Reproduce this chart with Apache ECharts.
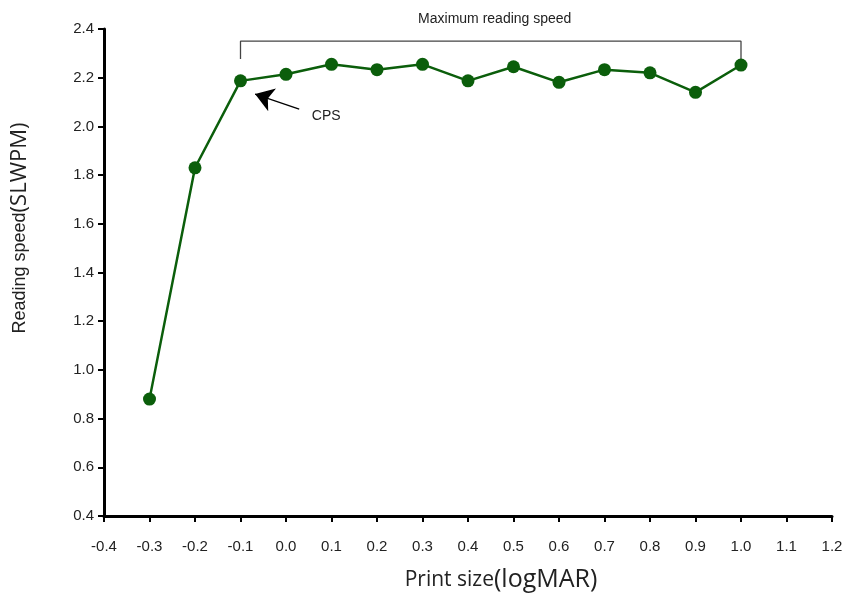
<!DOCTYPE html>
<html><head><meta charset="utf-8">
<script src="https://cdn.jsdelivr.net/npm/echarts@6/dist/echarts.min.js"></script>
<style>html,body{margin:0;padding:0;background:#fff}#c{width:851px;height:596px}</style>
</head><body><div id="c"></div>
<script>
const printSize = [-0.3, -0.2, -0.1, 0.0, 0.1, 0.2, 0.3, 0.4, 0.5, 0.6, 0.7, 0.8, 0.9, 1.0];
const readingSpeed = [0.88, 1.83, 2.187, 2.214, 2.255, 2.233, 2.255, 2.187, 2.245, 2.181, 2.233, 2.220, 2.140, 2.252];
const bracketX = [-0.1, -0.1, 1.0, 1.0];
const bracketY = [2.277, 2.35, 2.35, 2.272];
const arrowFrom = [0.029, 2.071];
const arrowTo = [-0.068, 2.133];
const bracketLabel = 'Maximum reading speed';
const cpsLabel = 'CPS';
const xTitleA = 'Print size', xTitleB = '(logMAR)';
const yTitleA = 'Reading speed', yTitleB = '(SLWPM)';

const chart = echarts.init(document.getElementById('c'));
const font = '"Liberation Sans", Arial, sans-serif';
const option = {
  animation: false,
  grid: {left: 104, right: 19, top: 29, bottom: 80},
  xAxis: {
    type: 'value', min: -0.4, max: 1.2, interval: 0.1,
    axisLine: {onZero: false, lineStyle: {color: '#000', width: 3}},
    axisTick: {show: true, length: 6, lineStyle: {color: '#000', width: 2}},
    axisLabel: {color: '#222', fontSize: 15, fontFamily: font, margin: 23, formatter: v => v.toFixed(1)},
    splitLine: {show: false}
  },
  yAxis: {
    type: 'value', min: 0.4, max: 2.4, interval: 0.2,
    axisLine: {show: true, onZero: false, lineStyle: {color: '#000', width: 3}},
    axisTick: {show: true, length: 6, lineStyle: {color: '#000', width: 2}},
    axisLabel: {color: '#222', fontSize: 15, fontFamily: font, margin: 10, formatter: v => v.toFixed(1)},
    splitLine: {show: false}
  },
  series: [
    {
      type: 'line', data: printSize.map((x, i) => [x, readingSpeed[i]]),
      symbol: 'circle', symbolSize: 13,
      lineStyle: {color: '#0b5e0b', width: 2.5},
      itemStyle: {color: '#0b5e0b'}
    },
    {
      type: 'line', data: bracketX.map((x, i) => [x, bracketY[i]]),
      symbol: 'none', lineStyle: {color: '#444', width: 1.3}, silent: true
    },
    {
      type: 'lines', coordinateSystem: 'cartesian2d', silent: true,
      symbol: ['none', 'arrow'], symbolSize: [0, 18],
      lineStyle: {color: '#000', width: 1.3, opacity: 1},
      data: [{coords: [arrowFrom, arrowTo]}]
    }
  ]
};
chart.setOption(option);
const pTop = chart.convertToPixel({gridIndex: 0}, [(bracketX[0] + bracketX[3]) / 2, bracketY[1]]);
const pCps = chart.convertToPixel({gridIndex: 0}, arrowFrom);
chart.setOption({
  graphic: [
    {type: 'text', x: pTop[0] + 4, y: pTop[1] - 22, style: {text: bracketLabel, fill: '#222', font: '14px ' + font, textAlign: 'center', textVerticalAlign: 'middle'}},
    {type: 'text', x: pCps[0] + 27, y: pCps[1] + 7, style: {text: cpsLabel, fill: '#222', font: '14px ' + font, textAlign: 'center', textVerticalAlign: 'middle'}},
    {type: 'text', x: 20, y: 228, rotation: Math.PI / 2, style: {
      text: '{a|' + yTitleA + '}{b|' + yTitleB + '}', fill: '#222', textAlign: 'center', textVerticalAlign: 'middle',
      rich: {a: {fontSize: 18, fontFamily: font, fill: '#222'}, b: {fontSize: 22, fontFamily: '"Open Sans", sans-serif', fill: '#222'}}}},
    {type: 'text', x: 501, y: 580, style: {
      text: '{a|' + xTitleA + '}{b|' + xTitleB + '}', fill: '#222', textAlign: 'center', textVerticalAlign: 'middle',
      rich: {a: {fontSize: 21, fontFamily: '"Open Sans", sans-serif', fill: '#222'}, b: {fontSize: 25, fontFamily: '"Open Sans", sans-serif', fill: '#222'}}}}
  ]
});
</script>
</body></html>
